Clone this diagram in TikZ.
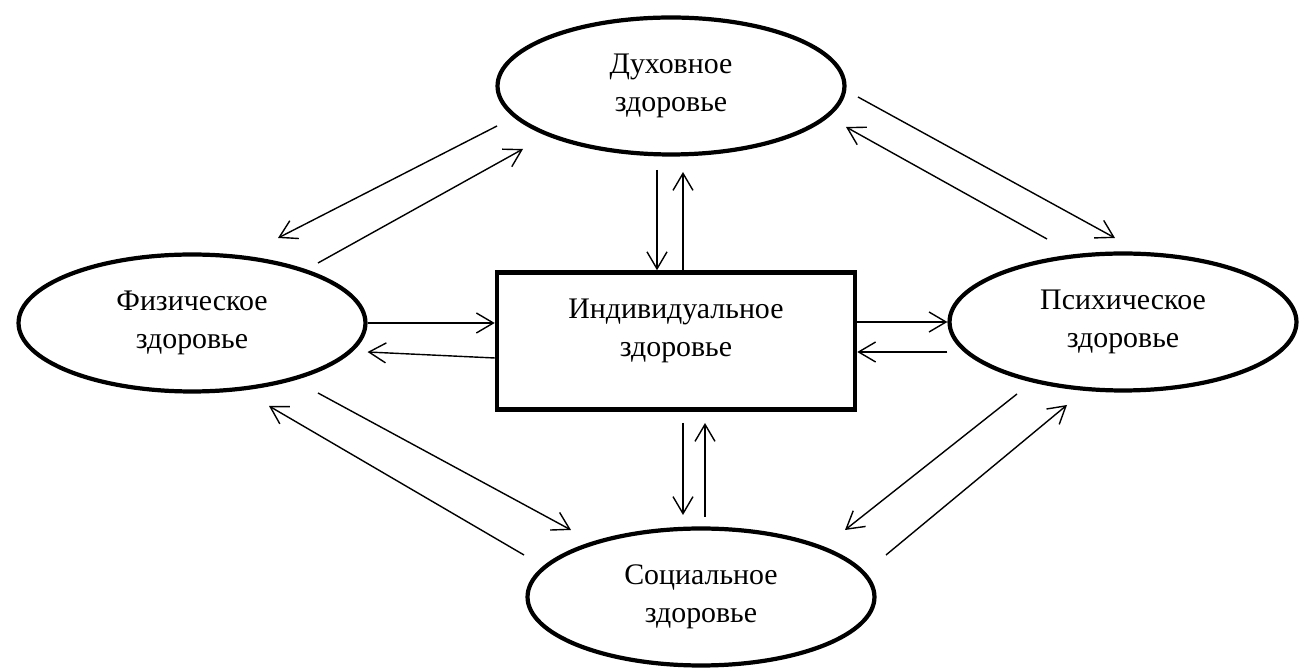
\documentclass[tikz,border=0pt]{standalone}
\usepackage{fontspec}
\setmainfont{Liberation Serif}
\usetikzlibrary{arrows.meta,calc}
\usetikzlibrary{positioning,shapes}
\tikzstyle{line}=[-{Straight Barb[length=0.34cm,width=0.4cm]}, line width=0.8pt]
\tikzstyle{txt}=[align=center, font=\fontsize{17}{21.6}\selectfont]
\tikzstyle{oval}=[ellipse, draw, txt, line width=2.4pt, inner sep=0pt,
		minimum width=6.94cm, minimum height=2.74cm]
\tikzstyle{final}=[rectangle, draw, line width=2.6pt,
		minimum width=7.16cm, minimum height=2.74cm]

\begin{document}
\begin{tikzpicture}[x=0.02cm,y=-0.02cm]
    \useasboundingbox (0,0) rectangle (1299,671);

    \node (Spirit) [oval] at (671,86) {Духовное\\здоровье};
    \node (Phys) [oval] at (192,323) {Физическое\\здоровье};
    \node (Psych) [oval] at (1123,322) {Психическое\\здоровье};
    \node (Soc) [oval] at (701,597) {Социальное\\здоровье};
    \node (Indiv) [final,
    		label={[txt,yshift=0.2cm]center:Индивидуальное\\здоровье}]
    		at (676,341) {};

    % free ends of the arrows
    \coordinate (sp1) at (657,170);
    \coordinate (sp2) at (683,172);
    \coordinate (so1) at (683,515);
    \coordinate (so2) at (705,517);
    \coordinate (so3) at (683,423);
    \coordinate (so4) at (705,423);

    % spiritual -- individual
    \draw[line] (sp1) -- (sp1 |- Indiv.north);
    \draw[line] (sp2 |- Indiv.north) -- (sp2);

    % individual -- social
    \draw[line] (so3) -- (so1);
    \draw[line] (so2) -- (so4);

    % physical -- individual
    \draw[line] (Phys.east) -- (Phys.east -| Indiv.west);
    \draw[line] ([yshift=-0.34cm]Indiv.west) -- ([yshift=-0.58cm]Phys.east);

    % individual -- psychic
    \draw[line] (Indiv.east |- Psych.west) -- (Psych.west);
    \draw[line] ([yshift=-0.6cm]Psych.west) -- ([yshift=-0.6cm]Psych.west -| Indiv.east);

    % diagonals
    \draw[line] (497,126) coordinate (d1) -- (278,238) coordinate (d2);
    \draw[line] (318,263) coordinate (d3) -- (523,149) coordinate (d4);
    \draw[line] (858,97) coordinate (d5) -- (1115,238) coordinate (d6);
    \draw[line] (1047,239) coordinate (d7) -- (846,127) coordinate (d8);
    \draw[line] (524,555) coordinate (d9) -- (269,406) coordinate (d10);
    \draw[line] (318,393) coordinate (d11) -- (571,530) coordinate (d12);
    \draw[line] (1017,394) coordinate (d13) -- (845,530) coordinate (d14);
    \draw[line] (886,555) coordinate (d15) -- (1067,405) coordinate (d16);

\end{tikzpicture}
\end{document}
